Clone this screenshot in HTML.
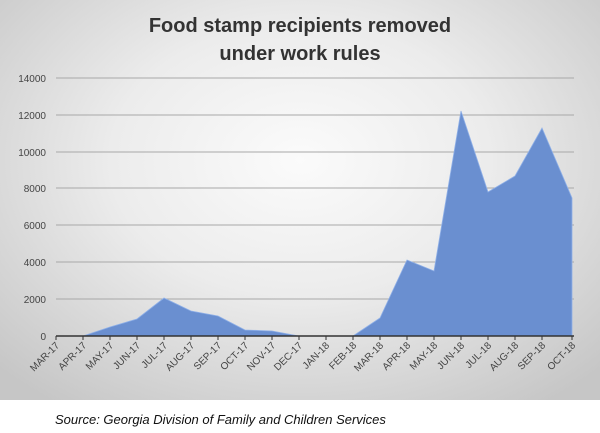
<!DOCTYPE html>
<html><head><style>
html,body{margin:0;padding:0}
body{width:600px;height:433px;overflow:hidden;background:#fff;font-family:"Liberation Sans",sans-serif}
#c{position:absolute;left:0;top:0;width:600px;height:400px;background:radial-gradient(ellipse 70% 75% at 50% 40%,#fbfbfb 0%,#ececec 45%,#c6c6c6 100%)}
</style></head><body>
<div id="c"></div>
<svg width="600" height="433" style="position:absolute;left:0;top:0" font-family="Liberation Sans, sans-serif">
<text x="300" y="32" text-anchor="middle" font-size="20" font-weight="bold" fill="#333">Food stamp recipients removed</text>
<text x="300" y="60" text-anchor="middle" font-size="20" font-weight="bold" fill="#333">under work rules</text>
<g stroke="#a8a8a8" stroke-width="1">
<line x1="56" x2="574" y1="78" y2="78"/><line x1="56" x2="574" y1="115" y2="115"/>
<line x1="56" x2="574" y1="152" y2="152"/><line x1="56" x2="574" y1="188" y2="188"/>
<line x1="56" x2="574" y1="225" y2="225"/><line x1="56" x2="574" y1="262" y2="262"/>
<line x1="56" x2="574" y1="299" y2="299"/>
</g>
<g font-size="10" fill="#444" text-anchor="end">
<text x="46" y="82">14000</text><text x="46" y="119">12000</text><text x="46" y="156">10000</text>
<text x="46" y="192">8000</text><text x="46" y="229">6000</text><text x="46" y="266">4000</text>
<text x="46" y="303">2000</text><text x="46" y="340">0</text>
</g>
<polygon fill="#6a8fd0" stroke="#8fb0e8" stroke-width="0.8" points="56,336 83,336 110,327 137,319 164,298 191,311 218,316 245,330 272,331 299,336 326,336 353,336 380,318 407,260 434,271 461,111 488,192 515,176 542,128 572,198 572,336"/>
<line x1="56" x2="574" y1="336" y2="336" stroke="#333" stroke-width="1.5"/>
<g stroke="#333" stroke-width="1">
<line x1="56" x2="56" y1="336" y2="340"/><line x1="83" x2="83" y1="336" y2="340"/><line x1="110" x2="110" y1="336" y2="340"/><line x1="137" x2="137" y1="336" y2="340"/><line x1="164" x2="164" y1="336" y2="340"/><line x1="191" x2="191" y1="336" y2="340"/><line x1="218" x2="218" y1="336" y2="340"/><line x1="245" x2="245" y1="336" y2="340"/><line x1="272" x2="272" y1="336" y2="340"/><line x1="299" x2="299" y1="336" y2="340"/><line x1="326" x2="326" y1="336" y2="340"/><line x1="353" x2="353" y1="336" y2="340"/><line x1="380" x2="380" y1="336" y2="340"/><line x1="407" x2="407" y1="336" y2="340"/><line x1="434" x2="434" y1="336" y2="340"/><line x1="461" x2="461" y1="336" y2="340"/><line x1="488" x2="488" y1="336" y2="340"/><line x1="515" x2="515" y1="336" y2="340"/><line x1="542" x2="542" y1="336" y2="340"/><line x1="572" x2="572" y1="336" y2="340"/>
</g>
<g font-size="10" fill="#444" text-anchor="end">
<text transform="translate(60,346) rotate(-45)">MAR-17</text>
<text transform="translate(87,346) rotate(-45)">APR-17</text>
<text transform="translate(114,346) rotate(-45)">MAY-17</text>
<text transform="translate(141,346) rotate(-45)">JUN-17</text>
<text transform="translate(168,346) rotate(-45)">JUL-17</text>
<text transform="translate(195,346) rotate(-45)">AUG-17</text>
<text transform="translate(222,346) rotate(-45)">SEP-17</text>
<text transform="translate(249,346) rotate(-45)">OCT-17</text>
<text transform="translate(276,346) rotate(-45)">NOV-17</text>
<text transform="translate(303,346) rotate(-45)">DEC-17</text>
<text transform="translate(330,346) rotate(-45)">JAN-18</text>
<text transform="translate(357,346) rotate(-45)">FEB-18</text>
<text transform="translate(384,346) rotate(-45)">MAR-18</text>
<text transform="translate(411,346) rotate(-45)">APR-18</text>
<text transform="translate(438,346) rotate(-45)">MAY-18</text>
<text transform="translate(465,346) rotate(-45)">JUN-18</text>
<text transform="translate(492,346) rotate(-45)">JUL-18</text>
<text transform="translate(519,346) rotate(-45)">AUG-18</text>
<text transform="translate(546,346) rotate(-45)">SEP-18</text>
<text transform="translate(576,346) rotate(-45)">OCT-18</text>
</g>
<text x="55" y="424" font-size="13" font-style="italic" fill="#111">Source: Georgia Division of Family and Children Services</text>
</svg>
</body></html>
